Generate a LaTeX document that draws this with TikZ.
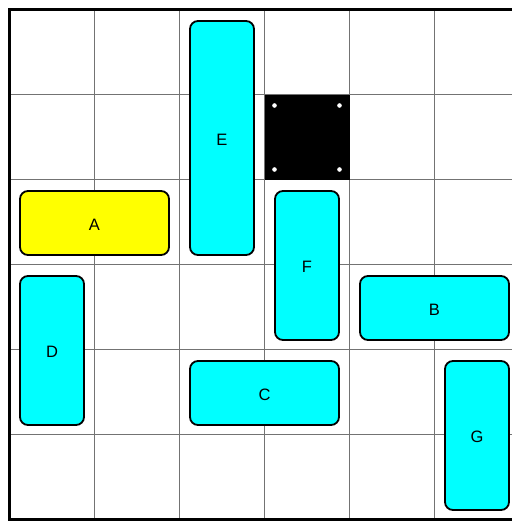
\documentclass[tikz,border=0pt]{standalone}
\usepackage{fontspec}
\setmainfont{Liberation Sans}
\definecolor{aqua}{RGB}{0,255,255}
\definecolor{gold}{RGB}{255,255,0}
\begin{document}
\begin{tikzpicture}[x=1pt,y=-1pt,
  gridline/.style={draw=black!55,line width=0.8pt},
  piece/.style={draw=black,line width=1.8pt,rounded corners=8pt,fill=aqua},
  target/.style={piece,fill=gold},
  lbl/.style={font=\fontsize{16.5}{19}\selectfont,text=black,yshift=-1.5pt}]
\useasboundingbox (0,0) rectangle (512,523);
\clip (0,0) rectangle (512,523);
% grid
\foreach \i in {1,...,5} {
  \draw[gridline] (9.5+85*\i,9.5) -- (9.5+85*\i,519.5);
  \draw[gridline] (9.5,9.5+85*\i) -- (519.5,9.5+85*\i);
}
\draw[line width=2.4pt] (9.5,9.5) rectangle (519.5,519.5);
% wall
\fill[black] (264.5,94.5) rectangle (349.5,179.5);
\foreach \px/\py in {274.5/105.5,339.5/105.5,274.5/169.5,339.5/169.5}
  \fill[white] (\px,\py) circle (2.3);
% pieces
\draw[target] (20,191) rectangle (169,255) node[midway,lbl] (A) {A};
\draw[piece] (190,21) rectangle (254,255) node[midway,lbl] (E) {E};
\draw[piece] (275,191) rectangle (339,340) node[midway,lbl] (F) {F};
\draw[piece] (360,276) rectangle (509,340) node[midway,lbl] (B) {B};
\draw[piece] (20,276) rectangle (84,425) node[midway,lbl] (D) {D};
\draw[piece] (190,361) rectangle (339,425) node[midway,lbl] (C) {C};
\draw[piece] (445,361) rectangle (509,510) node[midway,lbl] (G) {G};
\end{tikzpicture}
\end{document}
